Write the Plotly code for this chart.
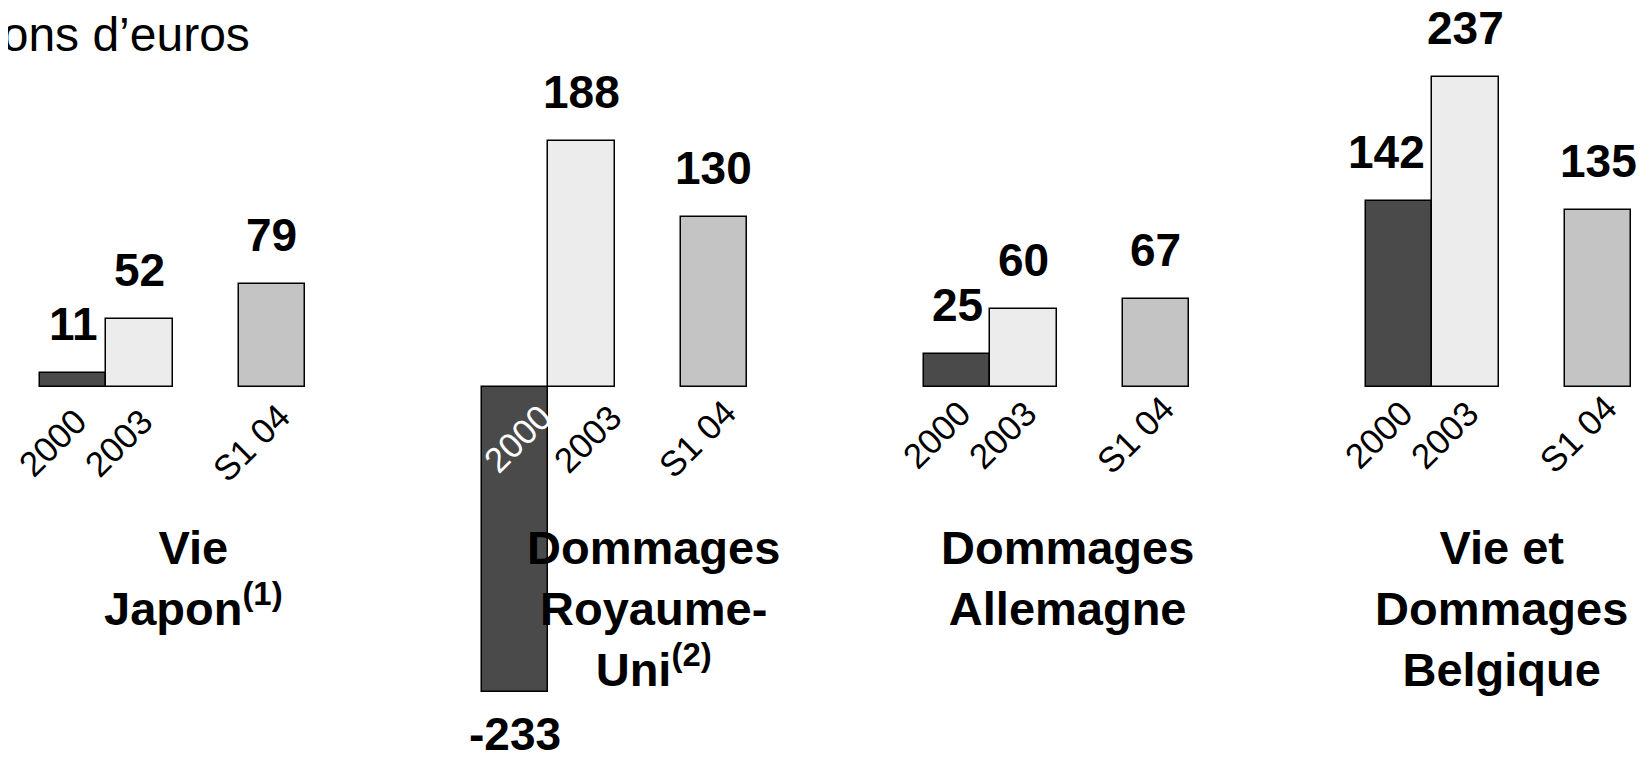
import plotly.graph_objects as go

# Data
periods = ["2000", "2003", "S1 04"]
segments = ["Vie<br>Japon<sup>(1)</sup>",
            "Dommages<br>Royaume-<br>Uni<sup>(2)</sup>",
            "Dommages<br>Allemagne",
            "Vie et<br>Dommages<br>Belgique"]
values_2000 = [11, -233, 25, 142]
values_2003 = [52, 188, 60, 237]
values_s104 = [79, 130, 67, 135]

colors = {"2000": "#4a4a4a", "2003": "#ececec", "S1 04": "#c4c4c4"}
series = {"2000": values_2000, "2003": values_2003, "S1 04": values_s104}

# Layout helpers (x in bar-width units, shifts in pixels)
W, H = 1637, 749          # page body keeps its default 8px margin
panel_step = 6.667
slot = {"2000": 0, "2003": 1, "S1 04": 3}
title_dx = [1.81, 2.09, 1.67, 1.54]
tick_dy = [55, 51, 47, 47]
tick_dx = {(1, "2000"): 2, (1, "2003"): 6, (1, "S1 04"): -17}
font = "Liberation Sans, Arial, sans-serif"

fig = go.Figure()

annotations = []
for p in periods:
    xs = [i * panel_step + slot[p] for i in range(len(segments))]
    fig.add_trace(go.Bar(
        x=xs, y=series[p], width=1,
        marker=dict(color=colors[p], line=dict(color="black", width=1.5)),
        showlegend=False, hoverinfo="skip"
    ))
    for i, (x, v) in enumerate(zip(xs, series[p])):
        # value label
        annotations.append(dict(
            x=x, y=v, text=f"<b>{v}</b>", showarrow=False,
            xshift=-13 if (p == "2000" and v > 100) else 0,
            yanchor="bottom" if v >= 0 else "top",
            yshift=21 if v >= 0 else -14,
            font=dict(size=46, color="black", family=font)
        ))
        # rotated category label (white when it sits on the dark negative bar)
        annotations.append(dict(
            x=x, y=0, text=p, showarrow=False, textangle=-45,
            xanchor="center", yanchor="middle",
            xshift=tick_dx.get((i, p), -21), yshift=-tick_dy[i],
            font=dict(size=35, color="white" if v < 0 else "black",
                      family=font)
        ))

for i, name in enumerate(segments):
    annotations.append(dict(
        x=i * panel_step + title_dx[i], y=0.318, yref="paper",
        text=f"<b>{name}</b>", showarrow=False,
        xanchor="center", yanchor="top",
        font=dict(size=47, color="black", family=font)
    ))

annotations.append(dict(
    x=244 / W, y=1.0, xref="paper", yref="paper",
    text="En millions d’euros", showarrow=False,
    xanchor="right", yanchor="top", yshift=2,
    font=dict(size=48, color="black", family=font)
))

px_per_unit = 66.3
px_per_value = 1.308
zero_px = 379             # baseline, from top of figure
x0 = -65.05 / px_per_unit

fig.update_layout(
    width=W, height=H,
    margin=dict(l=0, r=0, t=0, b=0),
    paper_bgcolor="white", plot_bgcolor="white",
    annotations=annotations,
    bargap=0,
    xaxis=dict(range=[x0, x0 + W / px_per_unit], visible=False,
               showgrid=False, zeroline=False),
    yaxis=dict(range=[-(H - zero_px) / px_per_value, zero_px / px_per_value],
               visible=False, showgrid=False, zeroline=False),
)

fig.write_html("out.html")
